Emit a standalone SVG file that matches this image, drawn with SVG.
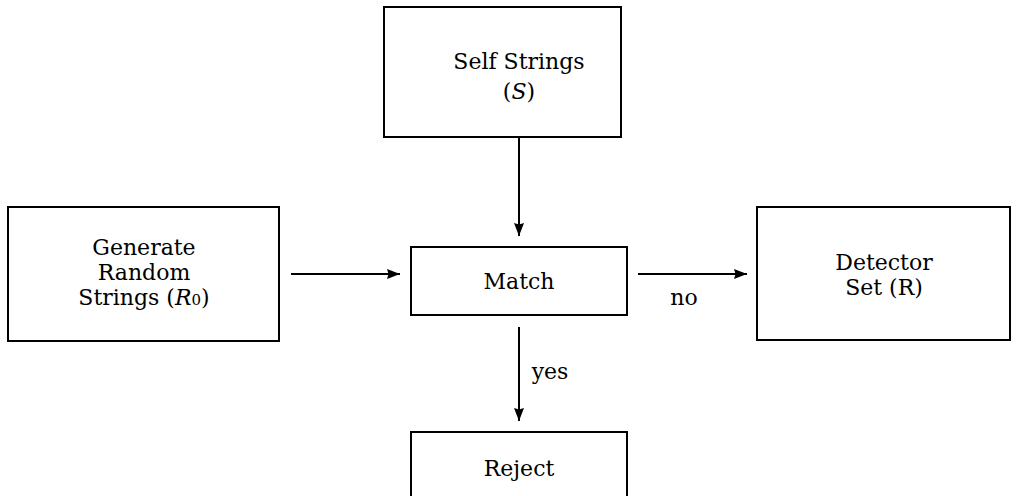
<svg xmlns="http://www.w3.org/2000/svg" width="1016" height="496" viewBox="0 0 1016 496">
<style>
.box{fill:#fff;stroke:#000;stroke-width:2}
.t{font-family:"DejaVu Serif","Liberation Serif",serif;font-size:22px;fill:#000;text-anchor:middle}
.i{font-style:italic}
.c{stroke:#000;stroke-width:2;fill:none}
</style>
<defs>
<marker id="ah" viewBox="0 0 13 10" refX="13" refY="5" markerWidth="13" markerHeight="10" markerUnits="userSpaceOnUse" orient="auto">
<path d="M0,0 L13,5 L0,10 L1.5,5 Z" fill="#000"/>
</marker>
</defs>
<rect width="1016" height="496" fill="#fff"/>
<g id="self">
<rect class="box" x="384" y="7" width="237" height="130"/>
<text class="t" x="519" y="69">Self Strings</text>
<text class="t" x="519" y="99">(<tspan class="i">S</tspan>)</text>
</g>
<g id="generate">
<rect class="box" x="8" y="207" width="271" height="134"/>
<text class="t" x="144" y="255">Generate</text>
<text class="t" x="144" y="280">Random</text>
<text class="t" x="144" y="305">Strings (<tspan class="i">R</tspan><tspan font-size="15">0</tspan>)</text>
</g>
<g id="match">
<rect class="box" x="411" y="247" width="216" height="68"/>
<text class="t" x="519" y="289">Match</text>
</g>
<g id="detector">
<rect class="box" x="757" y="207" width="253" height="133"/>
<text class="t" x="884" y="270">Detector</text>
<text class="t" x="884" y="295">Set (R)</text>
</g>
<g id="reject">
<rect class="box" x="411" y="432" width="216" height="80"/>
<text class="t" x="519" y="476">Reject</text>
</g>
<g id="connectors">
<line class="c" x1="519" y1="137" x2="519" y2="236" marker-end="url(#ah)"/>
<line class="c" x1="291" y1="274" x2="400" y2="274" marker-end="url(#ah)"/>
<line class="c" x1="638" y1="274" x2="747" y2="274" marker-end="url(#ah)"/>
<text class="t" x="684" y="305">no</text>
<line class="c" x1="519" y1="327" x2="519" y2="421" marker-end="url(#ah)"/>
<text class="t" x="550" y="379">yes</text>
</g>
</svg>
